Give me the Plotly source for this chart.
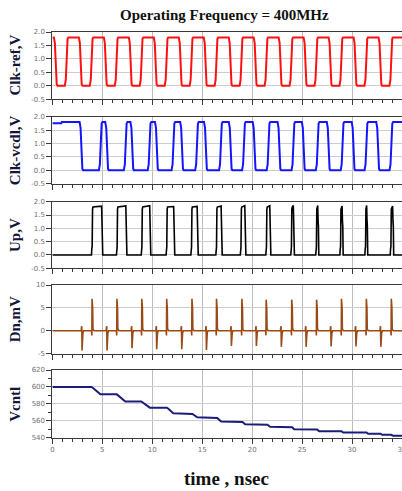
import plotly.graph_objects as go

# ---------------- data ----------------
T_END = 35.0

# Clk-ref (V): edge centre times (ns)
clkref_rise = [1.42, 3.92, 6.42, 8.92, 11.42, 13.92, 16.42, 18.92, 21.42, 23.92, 26.42, 28.92, 31.42, 33.92]
clkref_fall = [0.33, 2.83, 5.33, 7.83, 10.33, 12.83, 15.33, 17.83, 20.33, 22.83, 25.33, 27.83, 30.33, 32.83]
clkref_hi, clkref_lo = 1.8, 0.0

# Clk-vcdl (V)
vcdl_init_t = [0.0, 0.9, 0.95]
vcdl_init_v = [1.76, 1.76, 1.8]
vcdl_rise = [4.83, 7.33, 9.72, 12.11, 14.47, 16.86, 19.17, 21.63, 24.12, 26.55, 29.04, 31.43, 33.93]
vcdl_fall = [2.90, 5.47, 7.99, 10.45, 12.97, 15.36, 17.84, 20.23, 22.72, 25.15, 27.65, 30.14, 32.60]
vcdl_hi, vcdl_lo = 1.8, 0.0

# Up (V)
up_rise = [3.95, 6.45, 8.93, 11.42, 13.90, 16.40, 18.85, 21.40, 23.90, 26.40, 28.82, 31.32, 33.86]
up_fall = [4.97, 7.39, 9.78, 12.18, 14.53, 16.93, 19.30, 21.80, 24.16, 26.60, 29.04, 31.50, 34.10]
up_peak = [1.83, 1.84, 1.85, 1.82, 1.82, 1.84, 1.85, 1.85, 1.86, 1.86, 1.84, 1.86, 1.84]

# Dn (mV)
dn_neg_t = [2.95, 5.45, 7.95, 10.42, 12.93, 15.40, 17.90, 20.40, 22.90, 25.38, 27.88, 30.37, 32.86]
dn_neg_v = [-4.3, -4.3, -3.8, -4.0, -4.0, -4.2, -3.3, -3.3, -3.5, -3.5, -3.4, -3.4, -3.5]
dn_pos_t = [3.97, 6.46, 8.95, 11.44, 13.97, 16.43, 18.97, 21.40, 23.96, 26.45, 28.94, 31.43, 33.93]
dn_pos_v = [7.0, 7.0, 7.0, 7.0, 7.0, 7.0, 7.0, 6.8, 6.8, 6.8, 7.0, 7.0, 7.0]

# Vcntl (mV): breakpoints
vcntl_t = [0.0, 3.92, 4.10, 4.80, 6.45, 6.60, 7.30, 8.90, 9.05, 9.75, 11.45, 11.58, 12.10,
           13.90, 14.02, 14.50, 16.40, 16.50, 16.90, 18.95, 19.03, 19.30, 21.45, 21.52, 21.80,
           23.95, 24.00, 24.20, 26.45, 26.50, 26.70, 28.95, 29.12, 31.45, 31.60, 32.85, 33.00,
           33.92, 34.10, 35.0]
vcntl_mv = [600.0, 600.0, 598.5, 591.2, 591.2, 589.8, 582.8, 582.8, 581.5, 575.5, 575.5, 574.5, 568.8,
            568.8, 568.0, 564.2, 564.2, 563.4, 559.2, 559.2, 558.6, 555.8, 555.8, 555.3, 552.8,
            552.8, 552.3, 550.0, 550.0, 549.6, 547.5, 547.5, 546.1, 546.1, 544.7, 544.7, 543.5,
            543.5, 542.4, 542.4]

x_ticks = [0, 5, 10, 15, 20, 25, 30, 35]
v_ticks = [-0.5, 0.0, 0.5, 1.0, 1.5, 2.0]
v_ticktext = ["-0.5", "0.0", "0.5", "1.0", "1.5", "2.0"]
dn_ticks = [-5, 0, 5, 10]
dn_ticktext = ["-5", "0", "5", "10"]
vc_ticks = [540, 560, 580, 600, 620]
vc_ticktext = ["540", "560", "580", "600", "620"]

title_text = "Operating Frequency = 400MHz"
xlabel_text = "time , nsec"
ylabels = ["Clk-ref,V", "Clk-vcdl,V", "Up,V", "Dn,mV", "Vcntl"]

# ---------------- waveform construction ----------------
UP_SHAPE = [(-0.18, 0.0), (-0.08, 0.12), (0.03, 0.85), (0.10, 0.97), (0.18, 1.0)]
DN_SHAPE = [(-0.18, 1.0), (-0.08, 0.88), (0.03, 0.15), (0.10, 0.03), (0.18, 0.0)]


def square(start_t, start_v, rises, falls, hi, lo):
    t, v = list(start_t), list(start_v)
    ev = sorted([(r, 1) for r in rises] + [(f, 0) for f in falls])
    last = start_v[-1]
    for tc, up in ev:
        shape = UP_SHAPE if up else DN_SHAPE
        for dt, frac in shape:
            t.append(tc + dt)
            v.append(lo + frac * (hi - lo))
        last = hi if up else lo
    t.append(T_END)
    v.append(last)
    return t, v


ref_t, ref_v = square([0.0], [clkref_hi], clkref_rise, clkref_fall, clkref_hi, clkref_lo)
vcdl_t, vcdl_v = square(vcdl_init_t, vcdl_init_v, vcdl_rise, vcdl_fall, vcdl_hi, vcdl_lo)

up_t, up_v = [0.0], [0.0]
for tr, tf, pk in zip(up_rise, up_fall, up_peak):
    up_t += [tr - 0.04, tr, tr + 0.03, tr + 0.07, tr + 0.11, tf - 0.04, tf, tf + 0.03, tf + 0.07]
    up_v += [0.0, 0.25, 0.3, 1.72, 1.8, pk, 1.25, 1.1, 0.0]
up_t.append(T_END)
up_v.append(0.0)

dn_events = sorted([(t, a, 0) for t, a in zip(dn_neg_t, dn_neg_v)] +
                   [(t, a, 1) for t, a in zip(dn_pos_t, dn_pos_v)])
dn_t, dn_v = [0.0], [0.0]
for te, amp, pos in dn_events:
    if pos:
        dn_t += [te - 0.05, te - 0.02, te, te + 0.03, te + 0.06, te + 0.09, te + 0.13, te + 0.2]
        dn_v += [0.0, -1.0, amp, amp * 0.78, amp * 0.72, 0.4, 0.0, 0.0]
    else:
        dn_t += [te - 0.06, te - 0.03, te - 0.01, te + 0.02, te + 0.05, te + 0.1, te + 0.18]
        dn_v += [0.0, 1.0, 0.9, amp, -1.0, -0.5, 0.0]
dn_t.append(T_END)
dn_v.append(0.0)

# ---------------- figure ----------------
W, H = 402, 491
fig = go.Figure()

traces = [
    (ref_t, ref_v, "#ff1010", 2.0),
    (vcdl_t, vcdl_v, "#1414ff", 2.0),
    (up_t, up_v, "#000000", 1.6),
    (dn_t, dn_v, "#9a4a16", 1.6),
    (vcntl_t, vcntl_mv, "#1c1c7a", 2.0),
]
for i, (tx, vy, col, lw) in enumerate(traces, start=1):
    fig.add_trace(go.Scatter(x=tx, y=vy, mode="lines",
                             line=dict(color=col, width=lw),
                             xaxis="x" if i == 1 else f"x{i}",
                             yaxis="y" if i == 1 else f"y{i}",
                             showlegend=False, hoverinfo="skip"))

panels_px = [(32.0, 99.2), (116.7, 183.7), (201.7, 268.3), (285.0, 353.7), (370.0, 437.7)]
yranges = [[-0.5, 2.0], [-0.5, 2.0], [-0.5, 2.0], [-5, 10], [540, 620]]
yticks = [(v_ticks, v_ticktext)] * 3 + [(dn_ticks, dn_ticktext), (vc_ticks, vc_ticktext)]

AX = "#3a3a3a"
x_dom = [52.4 / W, 1.0]
layout = dict(width=W, height=H, margin=dict(l=0, r=0, t=0, b=0, autoexpand=False),
              paper_bgcolor="white", plot_bgcolor="white", showlegend=False)

for i, ((top, bot), yr, (tv, tt)) in enumerate(zip(panels_px, yranges, yticks), start=1):
    xa = "xaxis" if i == 1 else f"xaxis{i}"
    ya = "yaxis" if i == 1 else f"yaxis{i}"
    ydom = [1 - bot / H, 1 - top / H]
    layout[xa] = dict(domain=x_dom, range=[0, T_END], anchor="y" if i == 1 else f"y{i}",
                      automargin=False,
                      showline=True, linecolor=AX, linewidth=1, mirror=True,
                      ticks="outside", ticklen=5, tickcolor=AX, tickwidth=1,
                      tickvals=x_ticks, ticktext=[str(v) for v in x_ticks],
                      showticklabels=(i == 5), ticklabeloverflow="allow",
                      tickfont=dict(family="DejaVu Sans", size=7, color="#707070"),
                      showgrid=True, gridcolor="#bcbcbc", gridwidth=1, zeroline=False,
                      minor=dict(ticks="outside", ticklen=3, dtick=1, tick0=0,
                                 tickcolor=AX, tickwidth=1, showgrid=False),
                      fixedrange=True)
    ymin = dict(ticks="outside", ticklen=3, dtick=10, tickcolor=AX, showgrid=False) if i == 5 else None
    ydict = dict(domain=ydom, range=yr, anchor="x" if i == 1 else f"x{i}",
                 automargin=False,
                 showline=True, linecolor=AX, linewidth=1, mirror=False,
                 ticks="outside", ticklen=5, tickcolor=AX, tickwidth=1,
                 tickvals=tv, ticktext=tt,
                 tickfont=dict(family="DejaVu Sans", size=7, color="#707070"),
                 showgrid=True, gridcolor="#cdcdcd", gridwidth=1, zeroline=False,
                 fixedrange=True)
    if ymin:
        ydict["minor"] = ymin
    layout[ya] = ydict

annotations = [
    dict(text="<b>" + title_text + "</b>", x=225 / W, y=1 - 15 / H, xref="paper", yref="paper",
         showarrow=False, xanchor="center", yanchor="middle",
         font=dict(family="Liberation Serif", size=15, color="#111111")),
    dict(text="<b>" + xlabel_text + "</b>", x=226 / W, y=1 - 478 / H, xref="paper", yref="paper",
         showarrow=False, xanchor="center", yanchor="middle",
         font=dict(family="Liberation Serif", size=19, color="#111111")),
]
for (top, bot), lab in zip(panels_px, ylabels):
    annotations.append(dict(text="<b>" + lab + "</b>", x=15 / W, y=1 - (top + bot) / 2 / H,
                            xref="paper", yref="paper", showarrow=False, textangle=-90,
                            xanchor="center", yanchor="middle",
                            font=dict(family="Liberation Serif", size=15, color="#15153a")))
layout["annotations"] = annotations

fig.update_layout(**layout)
fig.write_html("out.html", config={"displayModeBar": False, "staticPlot": True},
               post_script="document.body.style.margin='0';document.body.style.overflow='hidden';")
